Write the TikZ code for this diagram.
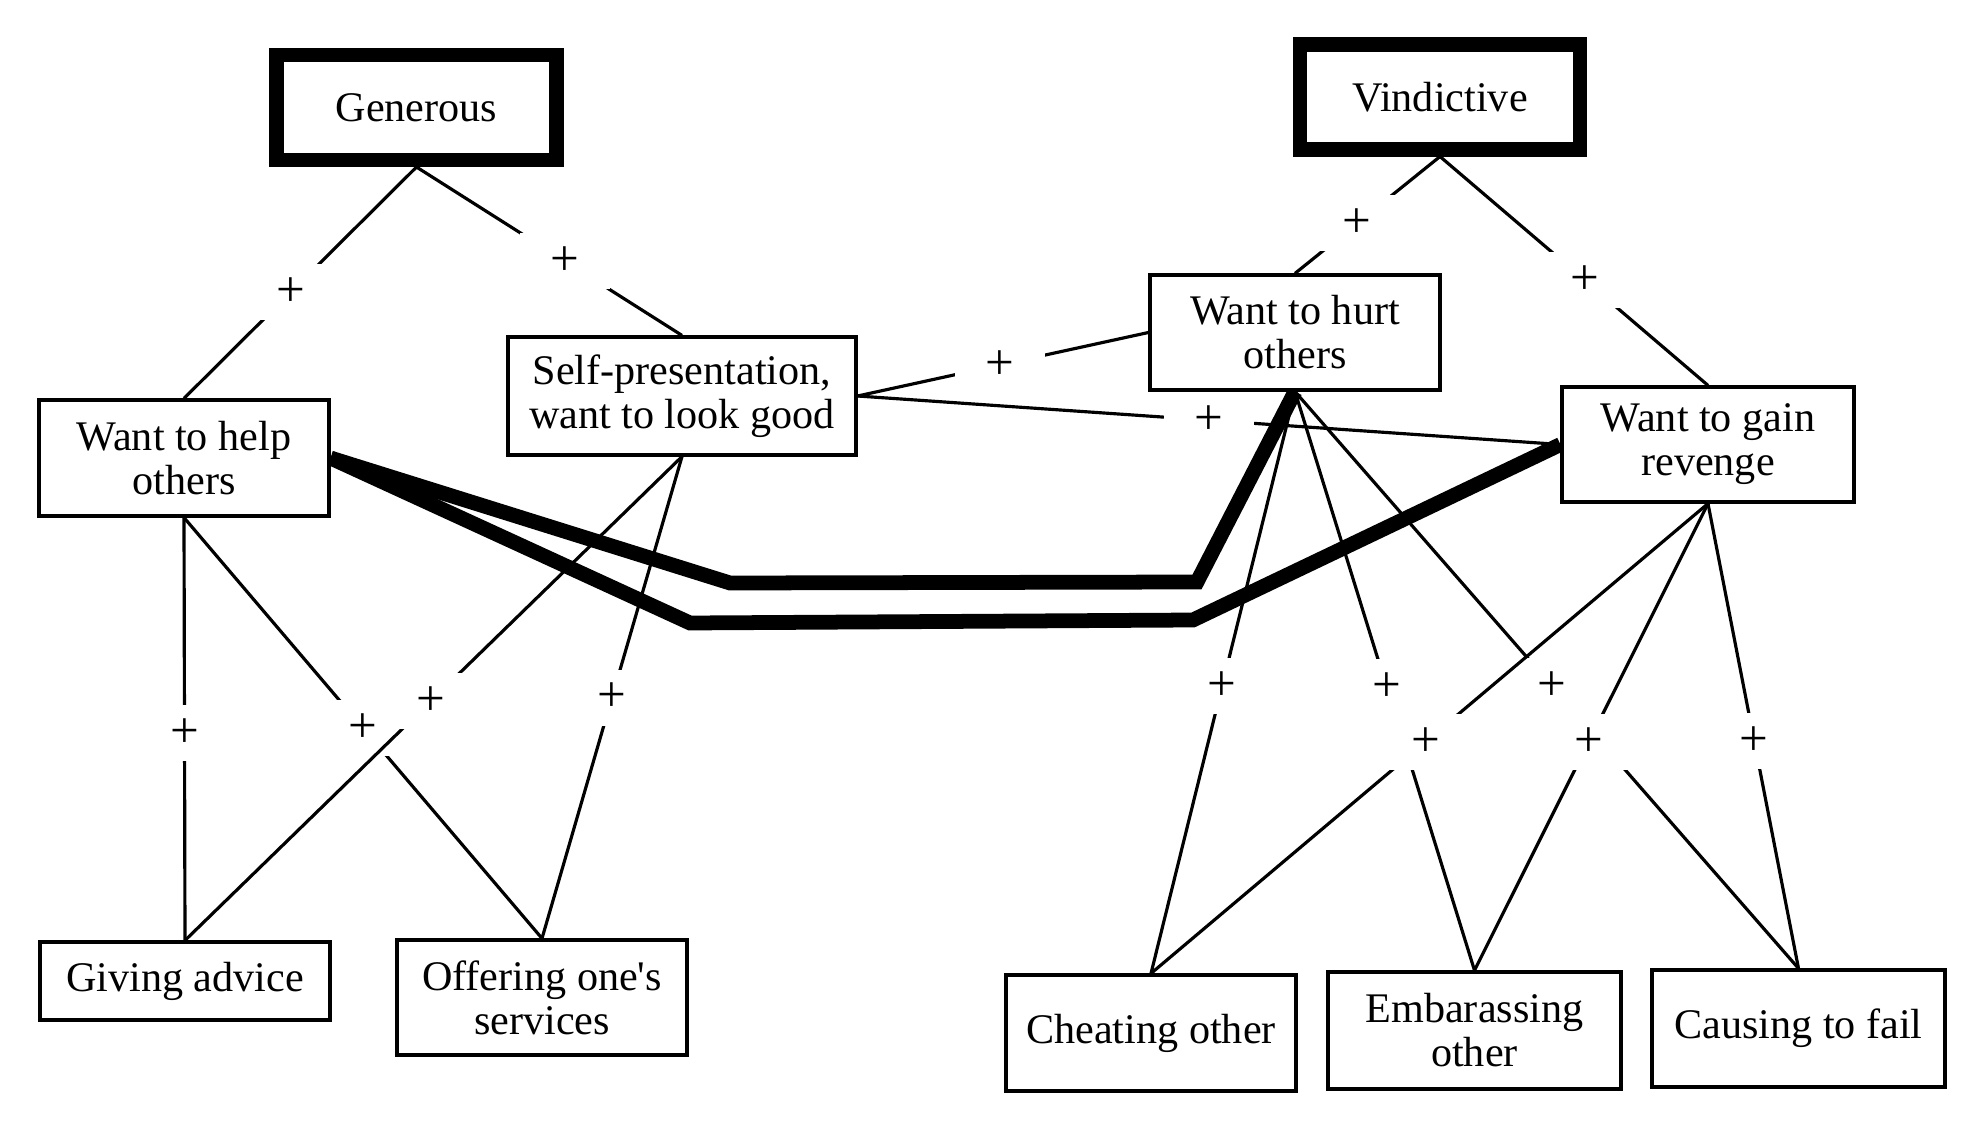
\documentclass[tikz,border=0pt]{standalone}
\usepackage{fontspec}
\setmainfont{Liberation Serif}
\usetikzlibrary{calc}

\begin{document}
\begin{tikzpicture}[
    box/.style={draw, line width=0.9pt, align=center, inner sep=2pt, minimum width=2.9cm, minimum height=1.16cm, font=\fontsize{12}{12.5}\selectfont},
    trait/.style={box, line width=4pt, minimum width=2.8cm, minimum height=1.05cm},
    link/.style={line width=0.9pt},
    route/.style={line width=4.2pt},
    plus/.style={fill=white, inner sep=0pt, minimum width=0.9cm, minimum height=0.56cm, font=\fontsize{14.5}{14.5}\selectfont}
]
    \useasboundingbox (0,0) rectangle (19.82,-11.26);

    % Traits
    \node[trait] (gen) at (4.165,-1.075) {Generous};
    \node[trait] (vin) at (14.40,-0.97) {Vindictive};

    % Goals
    \node[box] (help) at (1.84,-4.58) {Want to help\\others};
    \node[box, minimum width=3.48cm, minimum height=1.18cm] (self) at (6.82,-3.96) {Self-presentation,\\want to look good};
    \node[box, minimum height=1.15cm] (hurt) at (12.95,-3.325) {Want to hurt\\others};
    \node[box, minimum width=2.92cm, minimum height=1.15cm] (rev) at (17.08,-4.445) {Want to gain\\revenge};

    % Behaviours
    \node[box, minimum height=0.78cm] (give) at (1.85,-9.81) {Giving advice};
    \node[box, minimum height=1.15cm] (offer) at (5.42,-9.975) {Offering one\textquotesingle s\\services};
    \node[box] (cheat) at (11.51,-10.33) {Cheating other};
    \node[box, minimum width=2.93cm, minimum height=1.17cm] (embar) at (14.745,-10.305) {Embarassing\\other};
    \node[box, minimum width=2.93cm, minimum height=1.17cm] (fail) at (17.985,-10.285) {Causing to fail};

    % Highlighted routes
    \coordinate (hu1) at (7.30,-5.83);
    \coordinate (hu2) at (11.97,-5.82);
    \coordinate (hl1) at (6.90,-6.23);
    \coordinate (hl2) at (11.93,-6.20);
    \draw[route] (help.east) -- (hu1) -- (hu2) -- (hurt.south);
    \draw[route] (help.east) -- (hl1) -- (hl2) -- (rev.west);

    % Trait to goal links
    \draw[link] (gen.south) -- node[plus, pos=0.54] (p1) {+} (help.north);
    \draw[link] (gen.south) -- node[plus, pos=0.56] (p2) {+} (self.north);
    \draw[link] (vin.south) -- node[plus, pos=0.57] (p3) {+} (hurt.north);
    \draw[link] (vin.south) -- node[plus, pos=0.54] (p4) {+} (rev.north);

    % Goal to goal links
    \draw[link] (self.east) -- node[plus, pos=0.49] (p5) {+} (hurt.west);
    \draw[link] (self.east) -- node[plus, pos=0.50] (p6) {+} (rev.west);

    % Goal to behaviour links
    \draw[link] (help.south) -- node[plus, pos=0.51] (p7) {+} (give.north);
    \draw[link] (help.south) -- node[plus, pos=0.50] (p8) {+} (offer.north);
    \draw[link] (self.south) -- node[plus, pos=0.505] (p9) {+} (give.north);
    \draw[link] (self.south) -- node[plus, pos=0.50] (p10) {+} (offer.north);
    \draw[link] (hurt.south) -- node[plus, pos=0.506] (p11) {+} (cheat.north);
    \draw[link] (hurt.south) -- node[plus, pos=0.51] (p12) {+} (embar.north);
    \draw[link] (hurt.south) -- node[plus, pos=0.51] (p13) {+} (fail.north);
    \draw[link] (rev.south) -- node[plus, pos=0.507] (p14) {+} (cheat.north);
    \draw[link] (rev.south) -- node[plus, pos=0.51] (p15) {+} (embar.north);
    \draw[link] (rev.south) -- node[plus, pos=0.51] (p16) {+} (fail.north);

\end{tikzpicture}
\end{document}
